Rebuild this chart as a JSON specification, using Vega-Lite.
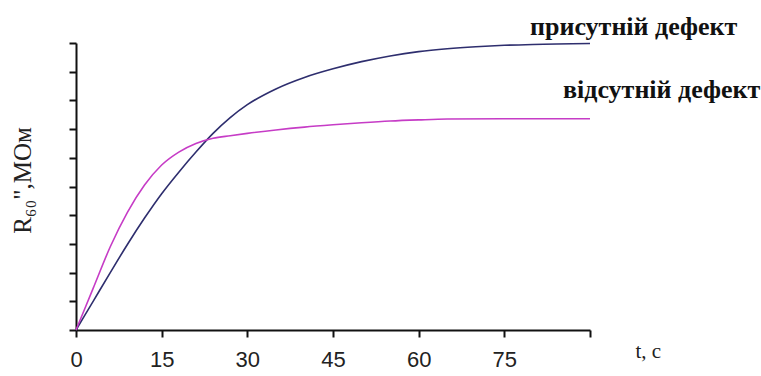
{
  "$schema": "https://vega.github.io/schema/vega-lite/v6.json",
  "width": 514,
  "height": 287,
  "autosize": {"type": "none"},
  "padding": {"left": 76, "top": 43, "right": 171, "bottom": 46},
  "background": "white",
  "config": {"view": {"stroke": null}},
  "data": {
    "values": [
      {"s": "присутній дефект", "t": 0, "v": 0},
      {"s": "присутній дефект", "t": 3, "v": 1.0},
      {"s": "присутній дефект", "t": 6, "v": 2.0},
      {"s": "присутній дефект", "t": 9, "v": 2.98},
      {"s": "присутній дефект", "t": 12, "v": 3.9},
      {"s": "присутній дефект", "t": 15, "v": 4.75},
      {"s": "присутній дефект", "t": 18, "v": 5.5},
      {"s": "присутній дефект", "t": 21, "v": 6.2},
      {"s": "присутній дефект", "t": 24, "v": 6.85},
      {"s": "присутній дефект", "t": 27, "v": 7.4},
      {"s": "присутній дефект", "t": 30, "v": 7.85},
      {"s": "присутній дефект", "t": 35, "v": 8.4},
      {"s": "присутній дефект", "t": 40, "v": 8.8},
      {"s": "присутній дефект", "t": 45, "v": 9.1},
      {"s": "присутній дефект", "t": 50, "v": 9.35},
      {"s": "присутній дефект", "t": 55, "v": 9.55},
      {"s": "присутній дефект", "t": 60, "v": 9.7},
      {"s": "присутній дефект", "t": 65, "v": 9.8},
      {"s": "присутній дефект", "t": 70, "v": 9.87},
      {"s": "присутній дефект", "t": 75, "v": 9.92},
      {"s": "присутній дефект", "t": 80, "v": 9.95},
      {"s": "присутній дефект", "t": 90, "v": 9.98},
      {"s": "відсутній дефект", "t": 0, "v": 0},
      {"s": "відсутній дефект", "t": 3, "v": 1.45},
      {"s": "відсутній дефект", "t": 6, "v": 2.9},
      {"s": "відсутній дефект", "t": 9, "v": 4.1},
      {"s": "відсутній дефект", "t": 12, "v": 5.05},
      {"s": "відсутній дефект", "t": 15, "v": 5.75},
      {"s": "відсутній дефект", "t": 18, "v": 6.2},
      {"s": "відсутній дефект", "t": 21, "v": 6.5},
      {"s": "відсутній дефект", "t": 24, "v": 6.68},
      {"s": "відсутній дефект", "t": 27, "v": 6.77},
      {"s": "відсутній дефект", "t": 30, "v": 6.85},
      {"s": "відсутній дефект", "t": 35, "v": 6.97},
      {"s": "відсутній дефект", "t": 40, "v": 7.07},
      {"s": "відсутній дефект", "t": 45, "v": 7.15},
      {"s": "відсутній дефект", "t": 50, "v": 7.22},
      {"s": "відсутній дефект", "t": 55, "v": 7.28},
      {"s": "відсутній дефект", "t": 60, "v": 7.32},
      {"s": "відсутній дефект", "t": 65, "v": 7.35},
      {"s": "відсутній дефект", "t": 75, "v": 7.36},
      {"s": "відсутній дефект", "t": 90, "v": 7.36}
    ]
  },
  "encoding": {
    "x": {
      "field": "t", "type": "quantitative",
      "scale": {"domain": [0, 90], "nice": false, "zero": true},
      "axis": {
        "values": [0, 15, 30, 45, 60, 75, 90],
        "labelExpr": "datum.value == 90 ? '' : datum.label",
        "grid": false,
        "domainColor": "#111111", "domainWidth": 2,
        "tickColor": "#111111", "tickWidth": 2, "tickSize": 7,
        "labelFont": "Liberation Sans", "labelFontSize": 22, "labelColor": "#222222",
        "labelPadding": 12, "labelFlush": false,
        "title": "t, c",
        "titleFont": "Liberation Serif", "titleFontSize": 21, "titleFontWeight": "normal",
        "titleColor": "#222222",
        "titleAnchor": "start", "titleAlign": "left", "titleBaseline": "alphabetic",
        "titleX": 559, "titleY": 27
      }
    },
    "y": {
      "field": "v", "type": "quantitative",
      "scale": {"domain": [0, 10], "nice": false},
      "axis": {
        "values": [0, 1, 2, 3, 4, 5, 6, 7, 8, 9, 10],
        "labels": false,
        "grid": false,
        "domainColor": "#111111", "domainWidth": 2,
        "tickColor": "#111111", "tickWidth": 2, "tickSize": 7,
        "title": "R₆₀\",МОм",
        "titleFont": "Liberation Serif", "titleFontSize": 25, "titleFontWeight": "normal",
        "titleColor": "#222222",
        "titleAngle": -90, "titleAlign": "center", "titleBaseline": "middle",
        "titleX": -54, "titleY": 137
      }
    }
  },
  "layer": [
    {
      "mark": {"type": "line", "strokeWidth": 1.6, "interpolate": "monotone"},
      "encoding": {
        "color": {
          "field": "s", "type": "nominal",
          "scale": {"domain": ["присутній дефект", "відсутній дефект"], "range": ["#2E2E6E", "#C63CC6"]},
          "legend": null
        }
      }
    },
    {
      "transform": [{"filter": "datum.s == 'присутній дефект' && datum.t == 90"}],
      "mark": {"type": "text", "align": "left", "baseline": "alphabetic", "dx": -60, "dy": -9,
               "font": "Liberation Serif", "fontWeight": "bold", "fontSize": 26, "color": "#111111"},
      "encoding": {"text": {"field": "s"}}
    },
    {
      "transform": [{"filter": "datum.s == 'відсутній дефект' && datum.t == 90"}],
      "mark": {"type": "text", "align": "left", "baseline": "alphabetic", "dx": -27, "dy": -21,
               "font": "Liberation Serif", "fontWeight": "bold", "fontSize": 26, "color": "#111111"},
      "encoding": {"text": {"field": "s"}}
    }
  ]
}
